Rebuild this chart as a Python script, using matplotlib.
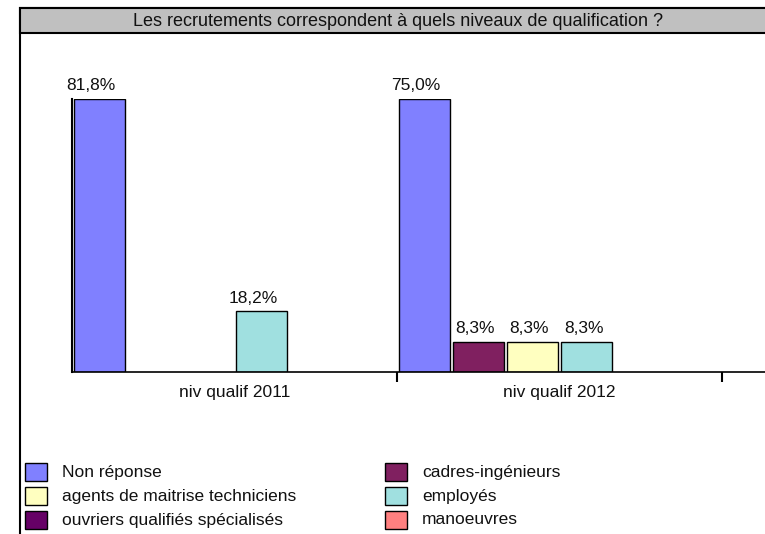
import matplotlib.pyplot as plt
from matplotlib.patches import Rectangle

plt.rcParams['font.family'] = ['Liberation Sans', 'DejaVu Sans']

### Data
title = "Les recrutements correspondent à quels niveaux de qualification ?"
categories = ['niv qualif 2011', 'niv qualif 2012']
series = ['Non réponse', 'cadres-ingénieurs', 'agents de maitrise techniciens',
          'employés', 'ouvriers qualifiés spécialisés', 'manoeuvres']
values_2011 = [81.8, 0, 0, 18.2, 0, 0]
values_2012 = [75.0, 8.3, 8.3, 8.3, 0, 0]
colors = ['#8080FF', '#802060', '#FFFFC0', '#A0E0E0', '#660066', '#FF8080']

W, H = 765, 534
FS = 12.5


def fx(px):
    return px / W


def fy(py):
    return 1 - py / H


fig = plt.figure(figsize=(W / 100, H / 100), dpi=100)

# outer frame + grey title band
fig.patches.append(Rectangle((fx(20), fy(560)), fx(780) - fx(20), fy(8) - fy(560),
                             transform=fig.transFigure, fill=False, edgecolor='black',
                             linewidth=1.5, zorder=0))
fig.patches.append(Rectangle((fx(20), fy(33)), fx(780) - fx(20), fy(8) - fy(33),
                             transform=fig.transFigure, facecolor='#C0C0C0', edgecolor='black',
                             linewidth=1.5, zorder=0))
fig.text(fx(398), fy(21), title, ha='center', va='center', fontsize=13, color='#111111')

ax = fig.add_axes([fx(72), fy(372), fx(765) - fx(72), fy(99) - fy(372)])
ax.set_facecolor('none')

n = len(series)
slot = 1 / n
bar_w = 0.157
for g, vals in enumerate([values_2011, values_2012]):
    top = max(vals)
    for k, v in enumerate(vals):
        if v == 0:
            continue
        x = g + (k + 0.5) * slot
        h = v / top
        ax.bar(x, h, width=bar_w, color=colors[k], edgecolor='black', linewidth=1)
        lbl = f"{v:.1f}%".replace('.', ',')
        # labels sit a little left of the bar centre, as in the source chart
        shift = -(5 * (len(lbl) - 4) + 3) * 0.72
        ax.annotate(lbl, (x, h), xytext=(shift, 4),
                    textcoords='offset points', ha='center', va='bottom',
                    fontsize=FS, color='#111111', annotation_clip=False)
    ax.text(g + 0.5, -0.075, categories[g], ha='center', va='center',
            fontsize=FS, color='#111111')

ax.set_xlim(0, (765 - 72) / 325)
ax.set_ylim(0, 1)
ax.spines['top'].set_visible(False)
ax.spines['right'].set_visible(False)
ax.spines['left'].set_linewidth(1.5)
ax.spines['bottom'].set_linewidth(1.2)
ax.set_yticks([])
ax.set_xticks([1, 2])
ax.set_xticklabels([])
ax.tick_params(axis='x', direction='out', length=7, width=1.5)

# legend, filled row by row
for i, name in enumerate(series):
    row, col = divmod(i, 2)
    px = 25 + col * 360
    py = 472 + row * 24
    fig.patches.append(Rectangle((fx(px), fy(py + 9)), fx(px + 22) - fx(px), fy(py - 9) - fy(py + 9),
                                 transform=fig.transFigure, facecolor=colors[i],
                                 edgecolor='black', linewidth=1))
    fig.text(fx(px + 37), fy(py), name, ha='left', va='center', fontsize=FS, color='#111111')

fig.savefig('out.png', dpi=100)
